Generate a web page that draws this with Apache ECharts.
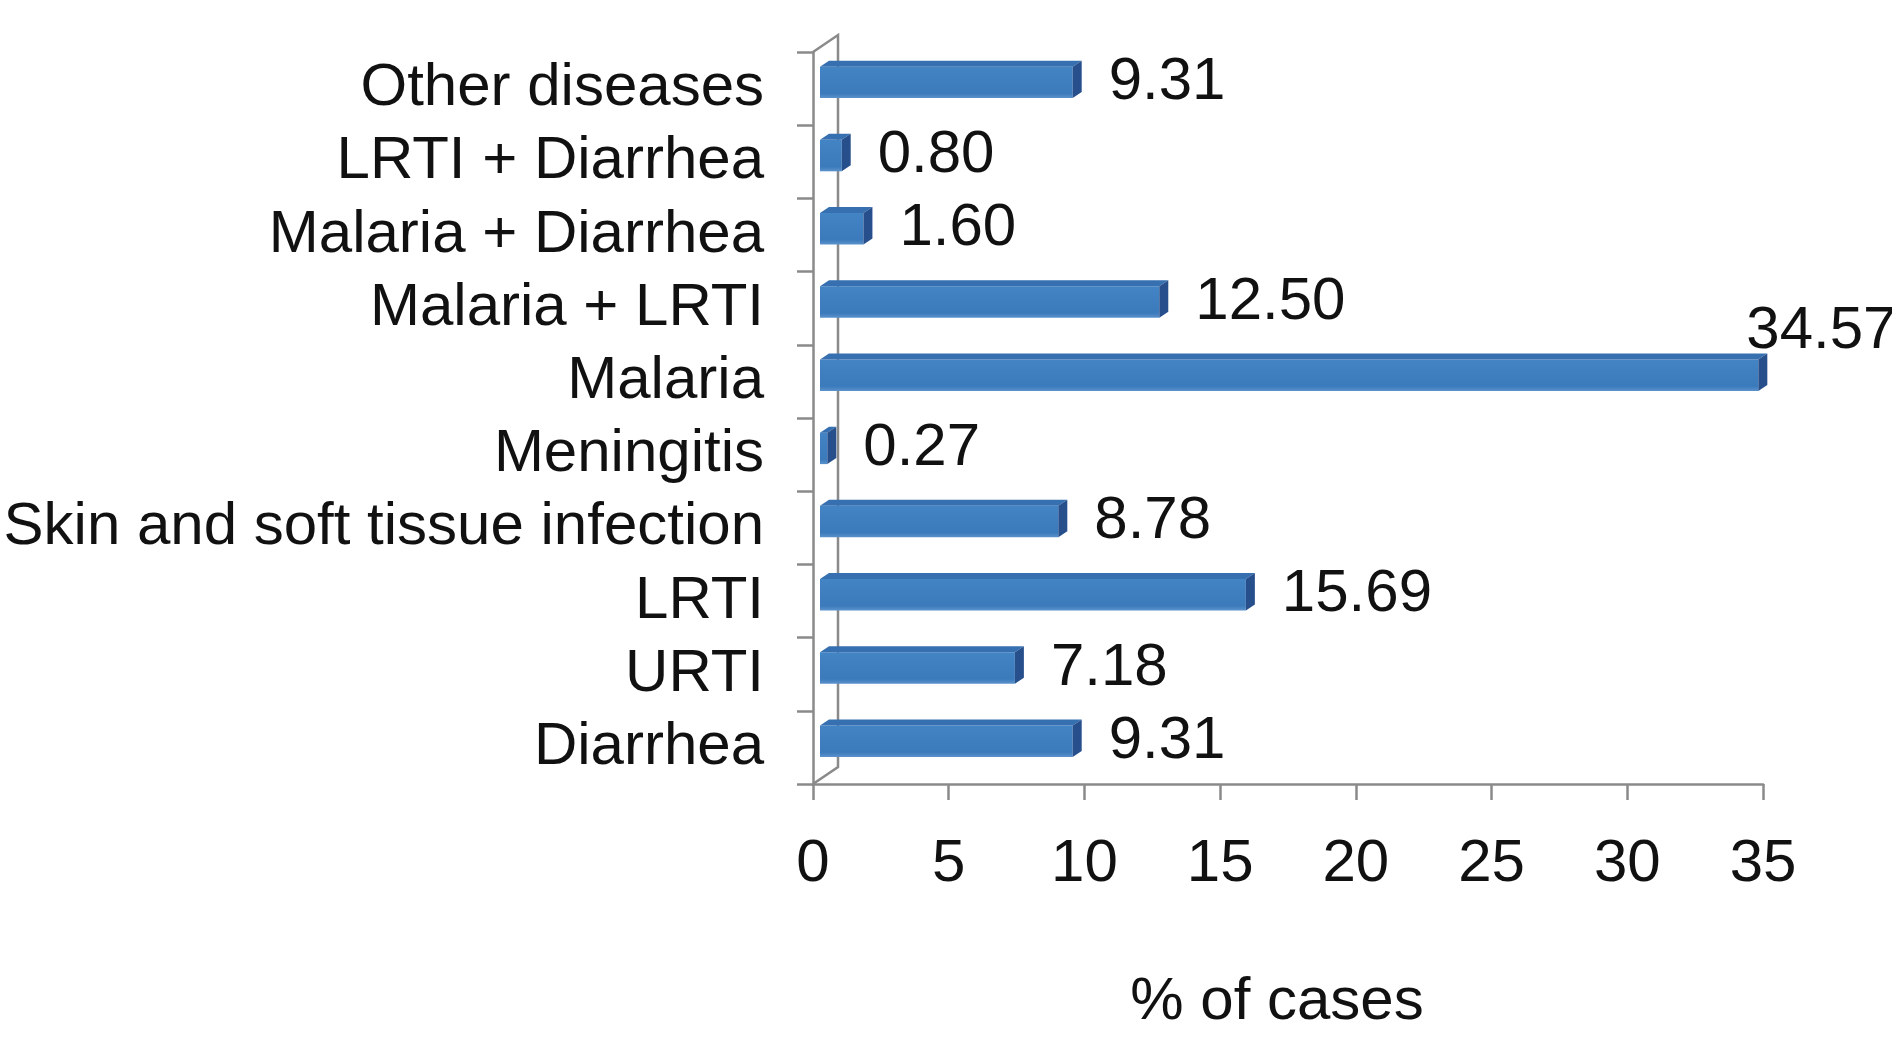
<!DOCTYPE html>
<html>
<head>
<meta charset="utf-8">
<script src="https://cdn.jsdelivr.net/npm/echarts@6/dist/echarts.min.js"></script>
<style>
html,body{margin:0;padding:0;background:#fff;}
#chart{width:1892px;height:1051px;}
</style>
</head>
<body>
<div id="chart"></div>
<script>
// Data (bottom to top)
const categories = ["Diarrhea","URTI","LRTI","Skin and soft tissue infection","Meningitis","Malaria","Malaria + LRTI","Malaria + Diarrhea","LRTI + Diarrhea","Other diseases"];
const values = [9.31, 7.18, 15.69, 8.78, 0.27, 34.57, 12.50, 1.60, 0.80, 9.31];
const xTicks = [0, 5, 10, 15, 20, 25, 30, 35];
const xAxisName = "% of cases";

const FONT = "'Liberation Sans', Arial, sans-serif";
const AXIS_COLOR = "#8a8a8a";
const FS = 60;

const chart = echarts.init(document.getElementById('chart'));

function renderBar(params, api) {
  const v = api.value(0), c = api.value(1);
  const start = api.coord([0, c]);
  const end = api.coord([v, c]);
  const band = api.size([0, 1])[1];
  const h = band * 0.43;
  const cy = start[1] - band * 0.085;
  const off = 7, dx = 9, dy = 6;
  const x0 = start[0] + off, x1 = end[0] + off;
  const yt = cy - h / 2, yb = cy + h / 2;
  const cs = params.coordSys;
  const label = v.toFixed(2);
  let lx = x1 + 36, ly = cy, align = 'left';
  if (lx + 120 > cs.x + cs.width + 20) { lx = x1 - 12; ly = cy - 44; }
  return {
    type: 'group',
    children: [
      { type: 'rect', shape: { x: x0, y: yt, width: Math.max(x1 - x0, 0.5), height: h },
        style: { fill: new echarts.graphic.LinearGradient(0, 0, 0, 1, [
          { offset: 0, color: '#4384c4' }, { offset: 0.85, color: '#3b7abb' }, { offset: 1, color: '#5b92cc' }]) } },
      { type: 'polygon', shape: { points: [[x0, yt], [x0 + dx, yt - dy], [x1 + dx, yt - dy], [x1, yt]] },
        style: { fill: '#3670b0' } },
      { type: 'polygon', shape: { points: [[x1, yt], [x1 + dx, yt - dy], [x1 + dx, yb - dy], [x1, yb]] },
        style: { fill: '#264f8c' } },
      { type: 'text', style: { x: lx, y: ly, text: label, fill: '#111', font: FS + 'px ' + FONT,
        align: align, verticalAlign: 'middle' } }
    ]
  };
}

function renderWall(params, api) {
  const cs = params.coordSys;
  const dx = 25, dy = 17;
  return {
    type: 'polyline',
    shape: { points: [[cs.x, cs.y], [cs.x + dx, cs.y - dy], [cs.x + dx, cs.y + cs.height - dy], [cs.x, cs.y + cs.height]] },
    style: { stroke: AXIS_COLOR, lineWidth: 2.5, fill: null },
    z2: 0
  };
}

chart.setOption({
  backgroundColor: '#fff',
  animation: false,
  grid: { left: 813, right: 129, top: 52, bottom: 267, containLabel: false },
  xAxis: {
    type: 'value', min: xTicks[0], max: xTicks[xTicks.length - 1], interval: 5,
    name: xAxisName, nameLocation: 'middle', nameGap: 188,
    nameTextStyle: { fontSize: FS, fontFamily: FONT, color: '#111', padding: [0, 22, 0, 0] },
    axisLine: { show: true, lineStyle: { color: AXIS_COLOR, width: 2.5 } },
    axisTick: { show: true, length: 16, lineStyle: { color: AXIS_COLOR, width: 2.5 } },
    axisLabel: { fontSize: FS, fontFamily: FONT, color: '#111', margin: 50 },
    splitLine: { show: false }
  },
  yAxis: {
    type: 'category', data: categories,
    axisLine: { show: true, lineStyle: { color: AXIS_COLOR, width: 2.5 } },
    axisTick: { show: true, length: 16, interval: 0, lineStyle: { color: AXIS_COLOR, width: 2.5 } },
    axisLabel: { fontSize: FS, fontFamily: FONT, color: '#111', margin: 49, interval: 0 },
    splitLine: { show: false }
  },
  series: [
    { type: 'custom', renderItem: renderWall, data: [[0, 0]], silent: true, z: 1,
      encode: { x: 0, y: 1 } },
    { type: 'custom', renderItem: renderBar, z: 2,
      data: values.map((v, i) => [v, i]), encode: { x: 0, y: 1 } }
  ]
});
</script>
</body>
</html>
